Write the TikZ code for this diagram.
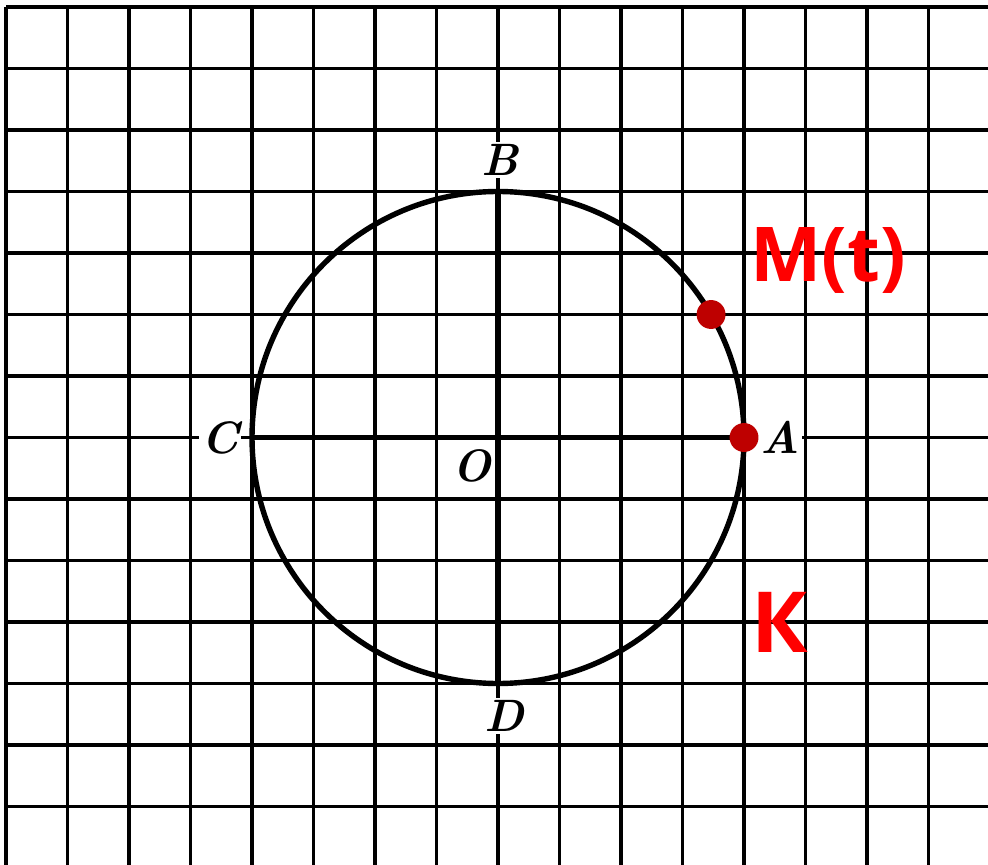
\documentclass[tikz,border=0pt]{standalone}
\usepackage{fontspec}
\newfontfamily\redfont{Open Sans}
\begin{document}
\begin{tikzpicture}[
  gridline/.style={line width=1.5pt, black},
  thick line/.style={line width=2.5pt, black},
  ptlabel/.style={font=\fontsize{21}{21}\selectfont\bfseries\itshape, fill=white, inner sep=1pt},
  reddot/.style={circle, fill={rgb,255:red,190;green,0;blue,0}, inner sep=0pt, minimum size=0.47cm},
  redtext/.style={font=\redfont\bfseries\fontsize{35}{35}\selectfont, text={rgb,255:red,255;green,0;blue,0}, inner sep=0pt}
]
\useasboundingbox (-8.098,-6.951) rectangle (7.967,7.114);
\fill[white] (-8.098,-6.951) rectangle (7.967,7.114);
% grid
\foreach \x in {-8,...,7} \draw[gridline] (\x,7) -- (\x,-7.0);
\foreach \y in {-6,...,7} \draw[gridline] (-8,\y) -- (8.0,\y);
% points
\coordinate (O) at (0,0);
\coordinate (A) at (4,0);
\coordinate (B) at (0,4);
\coordinate (C) at (-4,0);
\coordinate (D) at (0,-4);
\coordinate (M) at (30:4);
% circle and diameters
\draw[thick line] (O) circle (4);
\draw[thick line] (C) -- (A);
\draw[thick line] (B) -- (D);
% labels
\node[ptlabel] (lB) at (0.03,4.51) {B};
\node[ptlabel] (lD) at (0.10,-4.53) {D};
\node[ptlabel] (lC) at (-4.52,0.0) {C};
\node[ptlabel] (lA) at (4.58,0.0) {A};
\node[ptlabel, fill=none] (lO) at (-0.42,-0.46) {O};
% red dots
\node[reddot] (dA) at (A) {};
\node[reddot] (dM) at (M) {};
% red text
\node[redtext, anchor=base west] (lM) at (4.10,2.53) {M(t)};
\node[redtext, anchor=base west, font=\redfont\bfseries\fontsize{39}{39}\selectfont] (lK) at (4.12,-3.49) {К};
\end{tikzpicture}
\end{document}
